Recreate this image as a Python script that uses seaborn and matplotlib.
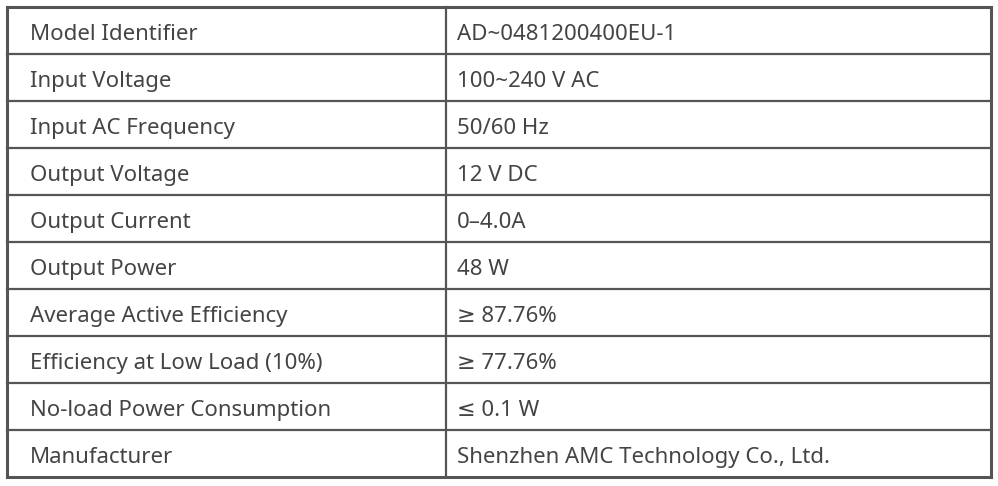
import matplotlib
matplotlib.use("Agg")
import matplotlib.pyplot as plt
import seaborn as sns

labels = ["Model Identifier", "Input Voltage", "Input AC Frequency", "Output Voltage",
          "Output Current", "Output Power", "Average Active Efficiency",
          "Efficiency at Low Load (10%)", "No-load Power Consumption", "Manufacturer"]
values = ["AD~0481200400EU-1", "100~240 V AC", "50/60 Hz", "12 V DC", "0–4.0A", "48 W",
          "≥ 87.76%", "≥ 77.76%", "≤ 0.1 W", "Shenzhen AMC Technology Co., Ltd."]

sns.set_theme(style="white")
plt.rcParams['font.family'] = ['Noto Sans', 'DejaVu Sans']

fig = plt.figure(figsize=(9.98, 4.86), dpi=100)
ax = fig.add_axes([0, 0, 1, 1])
ax.set_xlim(0, 998); ax.set_ylim(486, 0); ax.axis("off")

left, right, top, bottom, mid = 7.5, 991.5, 7.5, 477, 446.5
n = len(labels)
h = (bottom - top) / n
lc = "#555555"
for i in range(n + 1):
    lw = 2.2 if i in (0, n) else 1.6
    ax.plot([left, right], [top + i * h] * 2, color=lc, lw=lw, solid_capstyle="projecting")
for x in (left, mid, right):
    lw = 1.6 if x == mid else 2.2
    ax.plot([x, x], [top, bottom], color=lc, lw=lw, solid_capstyle="projecting")
for i, (a, b) in enumerate(zip(labels, values)):
    y = top + (i + 0.5) * h + 4
    ax.text(30, y, a, fontsize=16, color="#444444", va="center")
    ax.text(457, y, b, fontsize=16, color="#444444", va="center")

fig.savefig("out.png", dpi=100)
